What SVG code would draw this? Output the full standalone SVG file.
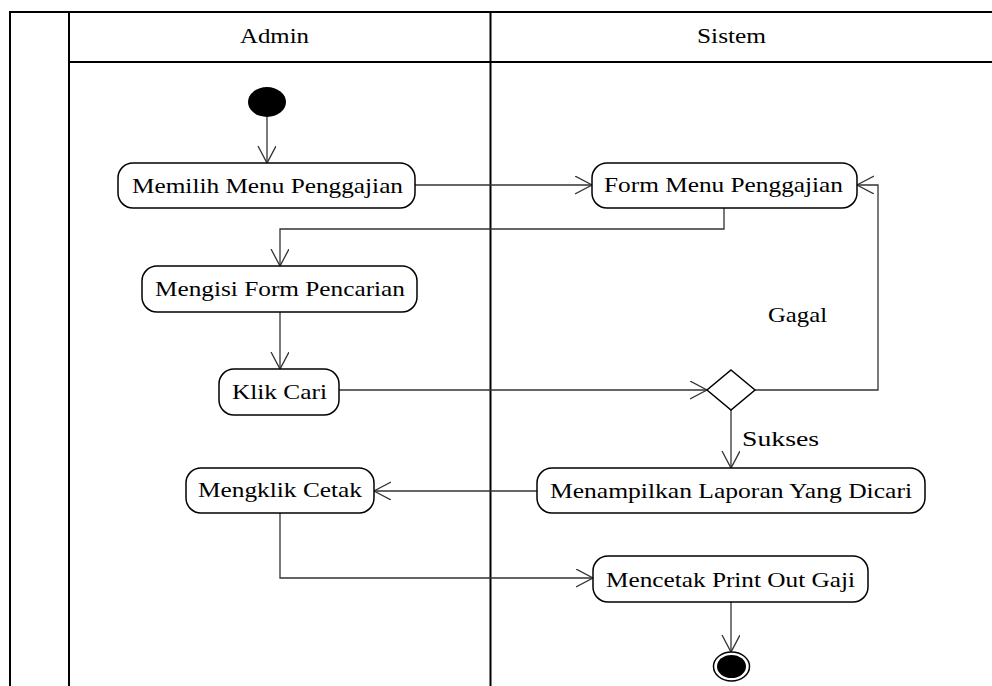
<svg xmlns="http://www.w3.org/2000/svg" width="992" height="686" viewBox="0 0 992 686">
<style>
.frame{stroke:#000;stroke-width:2;fill:none}
.node{fill:#fff;stroke:#000;stroke-width:1.5}
.t{font-family:"Liberation Serif",serif;font-size:22px;fill:#000}
.c{stroke:#333;stroke-width:1.3;fill:none}
</style>
<defs>
<marker id="arr" markerUnits="userSpaceOnUse" markerWidth="20" markerHeight="20" refX="17" refY="9" orient="auto">
<path d="M0,0 L17,9 L0,18" fill="none" stroke="#333" stroke-width="1.3"/>
</marker>
</defs>
<rect width="992" height="686" fill="#fff"/>
<g id="frame">
<line class="frame" x1="9" y1="12" x2="992" y2="12"/>
<line class="frame" x1="10" y1="12" x2="10" y2="686"/>
<line class="frame" x1="69" y1="12" x2="69" y2="686"/>
<line class="frame" x1="69" y1="62" x2="992" y2="62"/>
<line class="frame" x1="490.5" y1="12" x2="490.5" y2="686"/>
<text class="t" x="274.5" y="43" text-anchor="middle" textLength="69" lengthAdjust="spacingAndGlyphs">Admin</text>
<text class="t" x="731.5" y="43" text-anchor="middle" textLength="69" lengthAdjust="spacingAndGlyphs">Sistem</text>
</g>
<g id="connectors">
<path class="c" d="M267,117 V163" marker-end="url(#arr)"/>
<path class="c" d="M415,185 H592" marker-end="url(#arr)"/>
<path class="c" d="M724,208 V229 H280 V266" marker-end="url(#arr)"/>
<path class="c" d="M280,312 V369" marker-end="url(#arr)"/>
<path class="c" d="M339,390 H707" marker-end="url(#arr)"/>
<path class="c" d="M755,390 H878 V185 H857" marker-end="url(#arr)"/>
<path class="c" d="M731,410 V468" marker-end="url(#arr)"/>
<path class="c" d="M537,491 H374" marker-end="url(#arr)"/>
<path class="c" d="M280,513 V578 H593" marker-end="url(#arr)"/>
<path class="c" d="M731,602 V652" marker-end="url(#arr)"/>
<text class="t" x="768" y="322" textLength="59" lengthAdjust="spacingAndGlyphs">Gagal</text>
<text class="t" x="742" y="446" textLength="77" lengthAdjust="spacingAndGlyphs">Sukses</text>
</g>
<g id="start">
<ellipse cx="267" cy="102" rx="19" ry="15" fill="#000"/>
</g>
<g id="memilih">
<rect class="node" x="118" y="163" width="297" height="45" rx="15"/>
<text class="t" x="267.5" y="193" text-anchor="middle" textLength="271" lengthAdjust="spacingAndGlyphs">Memilih Menu Penggajian</text>
</g>
<g id="form-menu">
<rect class="node" x="592" y="163" width="265" height="45" rx="15"/>
<text class="t" x="723.5" y="192" text-anchor="middle" textLength="239" lengthAdjust="spacingAndGlyphs">Form Menu Penggajian</text>
</g>
<g id="mengisi">
<rect class="node" x="142" y="266" width="275" height="46" rx="15"/>
<text class="t" x="280" y="296" text-anchor="middle" textLength="250" lengthAdjust="spacingAndGlyphs">Mengisi Form Pencarian</text>
</g>
<g id="klik-cari">
<rect class="node" x="219" y="369" width="120" height="46" rx="15"/>
<text class="t" x="279.5" y="399" text-anchor="middle" textLength="95" lengthAdjust="spacingAndGlyphs">Klik Cari</text>
</g>
<g id="decision">
<polygon class="node" points="731,370 755,390 731,410 707,390"/>
</g>
<g id="menampilkan">
<rect class="node" x="537" y="468" width="388" height="45" rx="15"/>
<text class="t" x="731" y="498" text-anchor="middle" textLength="362" lengthAdjust="spacingAndGlyphs">Menampilkan Laporan Yang Dicari</text>
</g>
<g id="mengklik">
<rect class="node" x="186" y="468" width="188" height="45" rx="15"/>
<text class="t" x="280" y="497" text-anchor="middle" textLength="164" lengthAdjust="spacingAndGlyphs">Mengklik Cetak</text>
</g>
<g id="mencetak">
<rect class="node" x="593" y="556" width="275" height="46" rx="15"/>
<text class="t" x="730.5" y="587" text-anchor="middle" textLength="249" lengthAdjust="spacingAndGlyphs">Mencetak Print Out Gaji</text>
</g>
<g id="end">
<ellipse cx="731.5" cy="666.5" rx="18" ry="14.5" fill="#fff" stroke="#000" stroke-width="1.5"/>
<ellipse cx="731.5" cy="666.5" rx="14.5" ry="11.5" fill="#000"/>
</g>
</svg>
